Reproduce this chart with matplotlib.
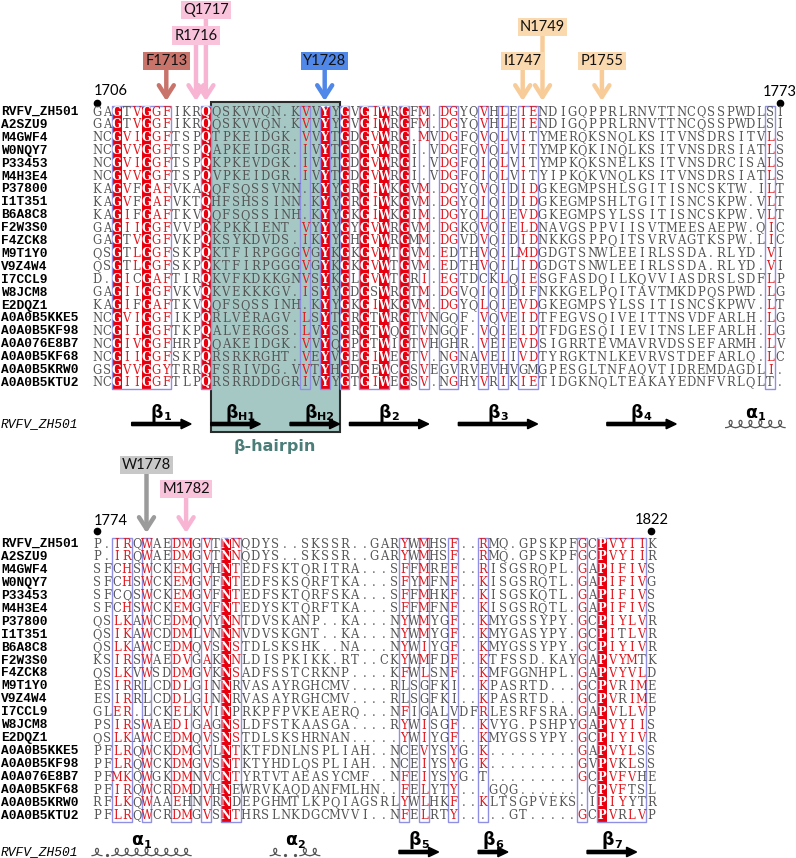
import matplotlib
matplotlib.use("Agg")
import matplotlib.pyplot as plt
from matplotlib.patches import Rectangle, FancyArrow
from matplotlib.font_manager import FontProperties
import numpy as np

# ---------------- data ----------------
names = ["RVFV_ZH501", "A2SZU9", "M4GWF4", "W0NQY7", "P33453", "M4H3E4", "P37800",
         "I1T351", "B6A8C8", "F2W3S0", "F4ZCK8", "M9T1Y0", "V9Z4W4", "I7CCL9",
         "W8JCM8", "E2DQZ1", "A0A0B5KKE5", "A0A0B5KF98", "A0A076E8B7", "A0A0B5KF68",
         "A0A0B5KRW0", "A0A0B5KTU2"]

top_seqs = [
    "GAGTVGGFIKRQQSKVVQN.KVVYYGVGIWRGFM.DGYQVHLEIENDIGQPPRLRNVTTNCQSSPWDLSI",
    "GAGTVGGFIKRQQSKVVQN.KVVYYGVGIWRGFM.DGYQVHLEIENDIGQPPRLRNVTTNCQSSPWDLSI",
    "NCGVIGGFTSPQTPKEIDGK.VVYTGDGVWRG.MVDGFQVQLVITYMERQKSNQLKSITVNSDRSITVLS",
    "NCGVVGGFTSPQAPKEIDGR.IVYTGDGVWRGI.VDGFQVQLVITYMPKQKINQLKSITVNSDRSIATLS",
    "NCGVIGGFTSPQKPKEVDGK.IVYTGDGVWRGI.VDGFQIQLVITYMPKQKSNELKSITVNSDRCISALS",
    "NCGVVGGFTSPQVPKEIDGR.IVYTGDGVWRGI.VDGFQIQLVITYIPKQKVNQLKSITVNSDRSIATLS",
    "KAGVFGAFVKAQQFSQSSVNN.KYYGRGIWKGVM.DGYQVQIDIDGKEGMPSHLSGITISNCSKTW.ILT",
    "KAGVFGAFVKTQHFSHSSINN.KYYGRGIWKGVM.DGYQIQIDIDGKEGMPSHLTGITISNCSKPW.VLT",
    "KAGIFGAFTKVQQFSQSSINH.KYYGKGIWKGIM.DGYQLQIEVDGKEGMPSYLSSITISNCSKPW.VLT",
    "GAGIIGGFVVPQKPKKIENT.VYYYGYGVWRGVM.DGKQVQIELDNAVGSPPVIISVTMEESAEPW.QIC",
    "GAGTVGGFVKPQKSYKDVDS.IKYYGHGVWRGMM.DGVDVQIDIDNKKGSPPQITSVRVAGTKSPW.LIC",
    "QSGTLGGFSKPQKTFIRPGGGVGYKGKGVWTGVM.EDTHVQILMDGDGTSNWLEEIRLSSDA.RLYD.VI",
    "QSGTLGGFSKPQKTFIRPGGGVGYKGKGVWTGVM.EDTHVQILIDGDGTSNWLEEIRLSSDA.RLYD.VI",
    "D.GICGAFTIRQKVFKDKKGNVSYKGLGVWTGRI.EGTDCKLQIESGFASDQILKQVVIASDRSLSDFLP",
    "GAGIIGGFVKVQKVEKKKGV.ISYYGDGSWRGTM.DGVQIQIDIFNKKGELPQITAVTMKDPQSPWD.LG",
    "KAGIFGAFTKVQQFSQSSINH.KYYGKGIWKGVM.DGYQLQIEVDGKEGMPSYLSSITISNCSKPWV.LT",
    "NCGVIGGFIKPQRLVERAGV.LSYTGRGTWRGTVNGQF.VQVEIDTFEGVSQIVEITTNSVDFARLH.LG",
    "NCGIIGGFTKPQALVERGGS.LVYSGRGTWQGTVNGQF.VQIEIDTFDGESQIIEVITNSLEFARLH.LG",
    "NCGIVGGFHRPQQAKEIDGK.VVYQGPGTWIGTVHGHR.VEIEVDSIGRRTEVMAVRVDSSEFARMH.LV",
    "NCGIIGGFSKPQRSRKRGHT.VEYVGEGIWEGTV.NGNAVEIIVDTYRGKTNLKEVRVSTDEFARLQ.LC",
    "GSGVVGGYTRRQFSRIVDG.VVTYHGDGEWCGSVEGVRVEVHVGMGPESGLTNFAQVTIDREMDAGDLI.",
    "NCGIIGGFTLPQRSRRDDDGRIVYYGTGIWEGSV.NGHYVRIKIETIDGKNQLTEAKAYEDNFVRLQLT.",
]

bot_seqs = [
    "P.IRQWAEDMGVTNNQDYS..SKSSR..GARYWMHSF..RMQ.GPSKPFGCPVYIIK",
    "P.IRQWAEDMGVTNNQDYS..SKSSR..GARYWMHSF..RMQ.GPSKPFGCPVYIIR",
    "SFCHSWCKEMGVHNTEDFSKTQRITRA...SFFMREF..RISGSRQPL.GAPIFIVS",
    "SFCHSWCKEMGVFNTEDFSKSQRFTKA...SFYMFNF..KISGSRQTL.GAPIFIVG",
    "SFCQSWCKEMGVFNTEDFSKTQRFSKA...SFFMHKF..KISGSKQTL.GAPIFIVS",
    "SFCHSWCKEMGVFNTEDYSKTQRFTKA...SFFMFNF..KISGSRQTL.GAPIFIVS",
    "QSLKAWCEDMQVYNNTDVSKANP..KA...NYWMYGF..KMYGSSYPY.GCPIYLVR",
    "QSIKAWCDDMLVNNNVDVSKGNT..KA...NYWMYGF..KMYGASYPY.GCPITLVR",
    "QSLKAWCEDMQVSNSTDLSKSHK..NA...NYWIYGF..KMYGSSYPY.GCPIYIVR",
    "KSIRSWAEDVGAKNNLDISPKIKK.RT..CKYWMFDF..KTFSSD.KAYGAPVYMTK",
    "QSLKVWSDDMGVKNSADFSSTCRKNP....KFWLSNF..KMFGGNHPL.GAPVYVLD",
    "ESIRRLCDDLGINNRVASAYRGHCMV....RLSGFKI..KPASRTD...GCPVRIME",
    "ESIRRLCDDLGINNRVASAYRGHCMV....RLSGFKI..KPASRTD...GCPVRIME",
    "GLER.LCKELKVINPRKPFPVKEAERQ...NFIGALVDFRLESRFSRA.GAPVLLVP",
    "PSIRSWAEDIGAGNSLDFSTKAASGA....RYWISGF..KVYG.PSHPYGAPVYIIS",
    "QSLKAWCEDMQVSNSTDLSKSHRNAN.....YWIYGF..KMYGSSYPY.GCPIYIVR",
    "PFLRQWCKDMGVLNTKTFDNLNSPLIAH..NCEVYSYG.K.........GAPVYLSS",
    "PFLRQWCKDMGVSNTKTYHDLQSPLIAH..NCEIYSYG.K.........GVPVKLSS",
    "PFMKQWGKDMNVCNTYRTVTAEASYCMF..NFEIYSYG.T.........GCPVFVHE",
    "PFIRQWCRDMDVHNEWRVKAQDANFMLHN..FELYTY...GQG.......CPVFTSL",
    "RFLKQWAAEHNVRNDEPGHMTLKPQIAGSRLYWLHKF..KLTSGPVEKS.IPIYYTR",
    "PFLRQWCRDMGVSNTHRSLNKDGCMVVI..NFELRTY.....GT.....GCPVRLVP",
]

top_start, top_end = 1706, 1773
bot_start, bot_end = 1774, 1822

# conservation: fully conserved columns (red background), similarity boxes,
# and residues shown in red inside each box column
top_fill = [3, 6, 12, 24, 26, 28, 30, 32]
top_boxes = [(3, 8), (12, 12), (22, 22), (24, 24), (26, 26), (28, 30), (32, 32),
             (34, 34), (36, 37), (40, 40), (42, 42), (44, 45), (69, 69)]
top_red = {4: "VI", 5: "VIL", 7: "GA", 8: "FY", 22: "VIL", 29: "IV", 34: "MIV",
           36: "DE", 37: "G", 40: "VIL", 42: "LIV", 44: "ILVM", 45: "DE", 69: "LIV"}

bot_fill = [14, 52]
bot_boxes = [(3, 4), (6, 6), (9, 10), (12, 12), (14, 15), (32, 32), (34, 34),
             (37, 37), (40, 40), (50, 50), (52, 56)]
bot_red = {3: "ILME", 4: "RKH", 6: "W", 9: "DE", 10: "MLIV", 12: "VIA", 15: "NTS",
           32: "YF", 34: "MILV", 37: "FY", 40: "RK", 50: "G", 53: "VI", 54: "YF",
           55: "ILMV", 56: "IVLM"}

# secondary structure of RVFV_ZH501: (type, greek, subscript, first col, last col)
top_ss = [("E", "β", "1", 5, 10), ("E", "β", "H1", 13, 17), ("E", "β", "H2", 21, 25),
          ("E", "β", "2", 27, 34), ("E", "β", "3", 38, 45), ("E", "β", "4", 53, 59),
          ("H", "α", "1", 65, 70)]
bot_ss = [("H", "α", "1", 1, 10), ("H", "α", "2", 19, 23), ("E", "β", "5", 32, 35),
          ("E", "β", "6", 40, 42), ("E", "β", "7", 51, 55)]

hairpin_cols = (13, 25)

# highlighted residues: (label, column, colour, arrow colour, tier)
top_marks = [("F1713", 8, "#c9746b", "#c9746b", "low"), ("R1716", 11, "#f9c3dc", "#f7b4d3", "mid"),
             ("Q1717", 12, "#f9c3dc", "#f7b4d3", "high"), ("Y1728", 24, "#4f88e8", "#4f88e8", "low"),
             ("I1747", 44, "#fbd9ae", "#f8cc98", "low"), ("N1749", 46, "#fbd9ae", "#f8cc98", "mid2"),
             ("P1755", 52, "#fbd9ae", "#f8cc98", "low")]
bot_marks = [("W1778", 6, "#c8c8c8", "#9b9b9b", "high"), ("M1782", 10, "#f9c3dc", "#f7b4d3", "mid")]

for s in top_seqs:
    assert len(s) == 70, (s, len(s))
for s in bot_seqs:
    assert len(s) == 57, (s, len(s))

# ---------------- drawing ----------------
fig = plt.figure(figsize=(7.96, 8.58), dpi=100)
ax = fig.add_axes([0, 0, 1, 1])
ax.set_xlim(0, 796)
ax.set_ylim(858, 0)
ax.axis("off")

X0, DX = 97.0, 9.9
RED = "#e8000e"
REDTXT = "#e0191f"
GREY = "#555555"
BOXC = "#8f8fe3"

fp_seq = FontProperties(family="DejaVu Serif", size=8.3)
fp_fill = FontProperties(family="DejaVu Serif", size=8.3, weight="bold")
fp_name = FontProperties(family="Liberation Mono", size=9.3, weight="bold")
fp_ital = FontProperties(family="Liberation Mono", size=9.3, style="italic")
fp_lab = FontProperties(family="Lato", size=10.5)
fp_num = FontProperties(family="Lato", size=10.5)


def colx(c):
    return X0 + (c - 1) * DX


def draw_block(seqs, y0, dy, fill, boxes, red):
    nrow = len(seqs)
    ytop = y0 - dy / 2
    ybot = y0 + (nrow - 1) * dy + dy / 2
    for c in fill:
        ax.add_patch(Rectangle((colx(c) - DX / 2, ytop), DX, ybot - ytop,
                               facecolor=RED, edgecolor="none", zorder=1))
    for a, b in boxes:
        ax.add_patch(Rectangle((colx(a) - DX / 2, ytop), (b - a + 1) * DX, ybot - ytop,
                               facecolor="none", edgecolor=BOXC, lw=1.0, zorder=2))
    for r, (nm, s) in enumerate(zip(names, seqs)):
        y = y0 + r * dy
        ax.text(1, y, nm, fontproperties=fp_name, ha="left", va="center",
                color="black", zorder=3)
        for i, ch in enumerate(s):
            c = i + 1
            if c in fill:
                ax.text(colx(c), y, ch, fontproperties=fp_fill, color="white",
                        ha="center", va="center", zorder=3)
            else:
                col = REDTXT if (c in red and ch in red[c]) else GREY
                ax.text(colx(c), y, ch, fontproperties=fp_seq, color=col,
                        ha="center", va="center", zorder=3)


def helix(c, y, gap):
    if gap:
        ax.plot([colx(c)], [y + 3.4], marker="o", ms=1.3, color="#555555", zorder=3)
        return
    t = np.linspace(-np.pi, np.pi, 80)
    r = DX / (2 * np.pi)
    d = 3.6
    x = colx(c) + r * t - d * np.sin(t)
    yy = y - d * np.cos(t)
    ax.plot(x, yy, color="#555555", lw=0.9, zorder=3)


def draw_ss(ss, ref, y_arrow, ss_label_y):
    ax.text(1, y_arrow, "RVFV_ZH501", fontproperties=fp_ital, ha="left",
            va="center", color="black")
    for kind, g, sub, a, b in ss:
        cx = (colx(a) + colx(b)) / 2
        if kind == "E":
            x1 = colx(a) - DX / 2
            x2 = colx(b) + DX / 2
            ax.add_patch(FancyArrow(x1, y_arrow, x2 - x1, 0, width=3.2, head_width=9.5,
                                    head_length=10, length_includes_head=True,
                                    color="black", zorder=4))
        else:
            for c in range(a, b + 1):
                helix(c, y_arrow, ref[c - 1] == ".")
        ax.text(cx + 2, ss_label_y, g, fontsize=12.5, fontweight="bold",
                family="DejaVu Sans", ha="right", va="baseline", color="black", zorder=5)
        ax.text(cx + 2, ss_label_y + 2.5, sub, fontsize=8, fontweight="bold",
                family="DejaVu Sans", ha="left", va="baseline", color="black", zorder=5)


def draw_marks(marks, tiers, y_end):
    for lab, c, fc, ac, tier in marks:
        x = colx(c)
        yc = tiers[tier]
        ax.annotate("", xy=(x, y_end), xytext=(x, yc + 9),
                    arrowprops=dict(arrowstyle="->,head_length=0.7,head_width=0.45",
                                    color=ac, lw=3.2, shrinkA=0, shrinkB=0,
                                    mutation_scale=12), zorder=6)
        ax.text(x, yc, lab, fontproperties=fp_lab, ha="center", va="center",
                color="#111111", zorder=7,
                bbox=dict(boxstyle="square,pad=0.15", facecolor=fc, edgecolor="none"))


# top block
TY0, TDY = 112.0, 12.9
# beta hairpin shading
hx1 = colx(hairpin_cols[0]) - DX / 2
hx2 = colx(hairpin_cols[1]) + DX / 2
ax.add_patch(Rectangle((hx1, 102), hx2 - hx1, 432 - 102, facecolor="#a6c8c4",
                       edgecolor="#2b2b2b", lw=1.5, zorder=0.5))
ax.text((hx1 + hx2) / 2, 447, "β-hairpin", fontsize=11.5, fontweight="bold",
        family="DejaVu Sans", color="#4b7e79", ha="center", va="center")

draw_block(top_seqs, TY0, TDY, top_fill, top_boxes, top_red)
draw_ss(top_ss, top_seqs[0], 424, 418)
draw_marks(top_marks, {"high": 10, "mid": 35.5, "mid2": 27, "low": 61}, 101)
# numbering
ax.text(colx(1) - 3, 91, str(top_start), fontproperties=fp_num, ha="left", va="center")
ax.plot([colx(1)], [103], "o", color="black", ms=4.5)
ax.text(colx(len(top_seqs[0])), 92, str(top_end), fontproperties=fp_num, ha="center",
        va="center")
ax.plot([colx(len(top_seqs[0]))], [103], "o", color="black", ms=4.5)

# bottom block
BY0, BDY = 544.0, 12.95
draw_block(bot_seqs, BY0, BDY, bot_fill, bot_boxes, bot_red)
draw_ss(bot_ss, bot_seqs[0], 852, 845)
draw_marks(bot_marks, {"high": 465, "mid": 489}, 533)
ax.text(colx(1) - 3, 521, str(bot_start), fontproperties=fp_num, ha="left", va="center")
ax.plot([colx(1)], [531], "o", color="black", ms=4.5)
ax.text(colx(len(bot_seqs[0])), 520, str(bot_end), fontproperties=fp_num, ha="center",
        va="center")
ax.plot([colx(len(bot_seqs[0]))], [531], "o", color="black", ms=4.5)

fig.savefig("out.png", dpi=100)
